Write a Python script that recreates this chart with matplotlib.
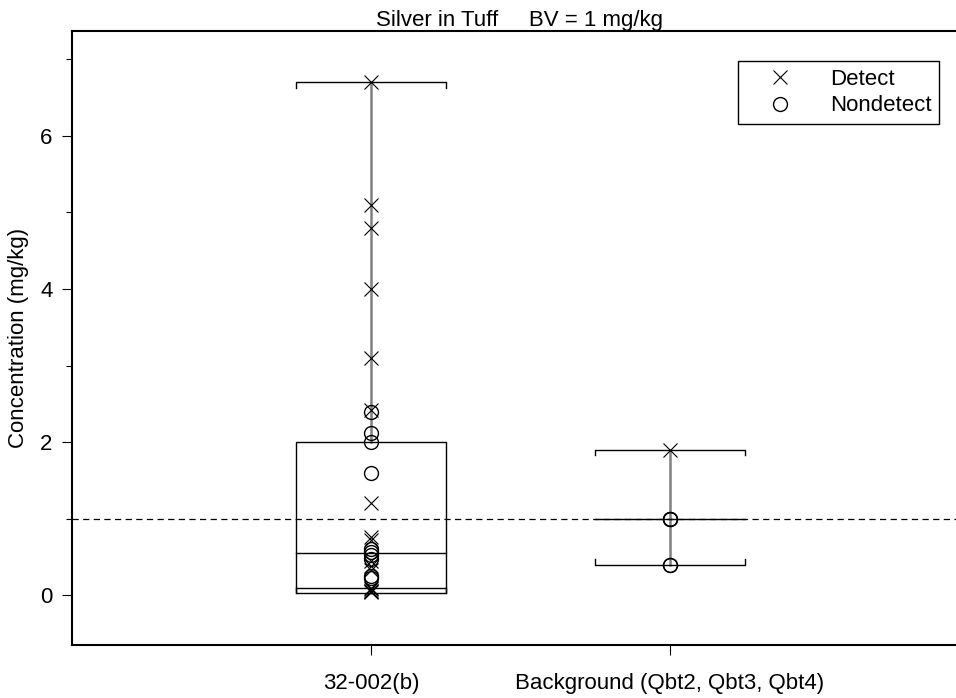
import matplotlib
matplotlib.use("Agg")
import matplotlib.pyplot as plt
from matplotlib.patches import Rectangle
from matplotlib.lines import Line2D

plt.rcParams['font.family'] = ['Liberation Sans', 'DejaVu Sans']

# ---- data ----
categories = ["32-002(b)", "Background (Qbt2, Qbt3, Qbt4)"]
positions = [1, 2]

detect_1 = [6.7, 5.1, 4.8, 4.0, 3.1, 2.42, 1.2, 0.76, 0.72, 0.45, 0.38, 0.33,
            0.1, 0.08, 0.06, 0.05, 0.04]
nondetect_1 = [2.4, 2.12, 2.0, 1.6, 0.61, 0.56, 0.52, 0.48, 0.25, 0.22]
detect_2 = [1.9]
nondetect_2 = [1.0, 1.0, 1.0, 0.4, 0.4]

# box stats: whisker low, Q1, median, Q3, whisker high
box_1 = [0.03, 0.1, 0.55, 2.0, 6.7]
box_2 = [0.4, 1.0, 1.0, 1.0, 1.9]

bv = 1.0
title = "Silver in Tuff     BV = 1 mg/kg"
ylabel = "Concentration (mg/kg)"
yticks = [0, 2, 4, 6]
yminor = [1, 3, 5, 7]

FS = 16

fig = plt.figure(figsize=(9.56, 6.98), dpi=100)
ax = fig.add_axes([0.0753, 0.0759, 0.9247, 0.8797])

hw = 0.25
cap = 0.07


def draw_box(ax, x, stats):
    lo, q1, med, q3, hi = stats
    ax.plot([x, x], [q3, hi], color="#808080", lw=1.8, zorder=1)
    ax.plot([x, x], [lo, q1], color="#808080", lw=1.8, zorder=1)
    ax.plot([x - hw, x - hw, x + hw, x + hw], [hi - cap, hi, hi, hi - cap],
            color="black", lw=1.0, zorder=2)
    ax.plot([x - hw, x - hw, x + hw, x + hw], [lo + cap, lo, lo, lo + cap],
            color="black", lw=1.0, zorder=2)
    if q3 > q1:
        ax.add_patch(Rectangle((x - hw, q1), 2 * hw, q3 - q1, fill=False,
                               edgecolor="black", lw=1.0, zorder=2))
        ax.plot([x - hw, x - hw], [lo, q1], color="black", lw=1.0, zorder=2)
        ax.plot([x + hw, x + hw], [lo, q1], color="black", lw=1.0, zorder=2)
    ax.plot([x - hw, x + hw], [med, med], color="black", lw=1.0, zorder=2)


draw_box(ax, positions[0], box_1)
draw_box(ax, positions[1], box_2)

ax.axhline(bv, color="black", lw=0.9, linestyle=(0, (5, 3.5)), zorder=1)

for x, d, n in [(positions[0], detect_1, nondetect_1),
                (positions[1], detect_2, nondetect_2)]:
    ax.plot([x] * len(d), d, linestyle="none", marker="x", markersize=10,
            markeredgewidth=0.8, color="black", zorder=3)
    ax.plot([x] * len(n), n, linestyle="none", marker="o", markersize=10,
            markerfacecolor="none", markeredgewidth=1.0, color="black",
            zorder=3)

ax.set_xlim(0, 2.957)
ax.set_ylim(-0.65, 7.37)
ax.set_xticks(positions)
ax.set_xticklabels(categories)
ax.set_yticks(yticks)
ax.set_yticks(yminor, minor=True)
ax.tick_params(axis="both", which="major", labelsize=FS, length=7, width=0.8,
               direction="out")
ax.tick_params(axis="x", pad=13)
ax.tick_params(axis="y", pad=7)
ax.tick_params(axis="y", which="minor", length=4, width=0.8)

for s in ["top", "bottom", "left"]:
    ax.spines[s].set_linewidth(1.5)
ax.spines["right"].set_visible(False)

ax.set_ylabel(ylabel, fontsize=FS, labelpad=8)
ax.set_title(title, fontsize=FS, pad=2, x=0.506)

handles = [Line2D([], [], linestyle="none", marker="x", markersize=10,
                  markeredgewidth=0.8, color="black"),
           Line2D([], [], linestyle="none", marker="o", markersize=10,
                  markerfacecolor="none", markeredgewidth=1.0, color="black")]
leg = ax.legend(handles, ["Detect", "Nondetect"], loc="upper right",
                bbox_to_anchor=(0.981, 0.951), fontsize=FS, frameon=True,
                fancybox=False, edgecolor="black", framealpha=1,
                borderpad=0.35, handletextpad=0.7, labelspacing=0.25,
                handlelength=3.1, borderaxespad=0)
leg.get_frame().set_linewidth(1.0)

fig.savefig("out.png", dpi=100)
